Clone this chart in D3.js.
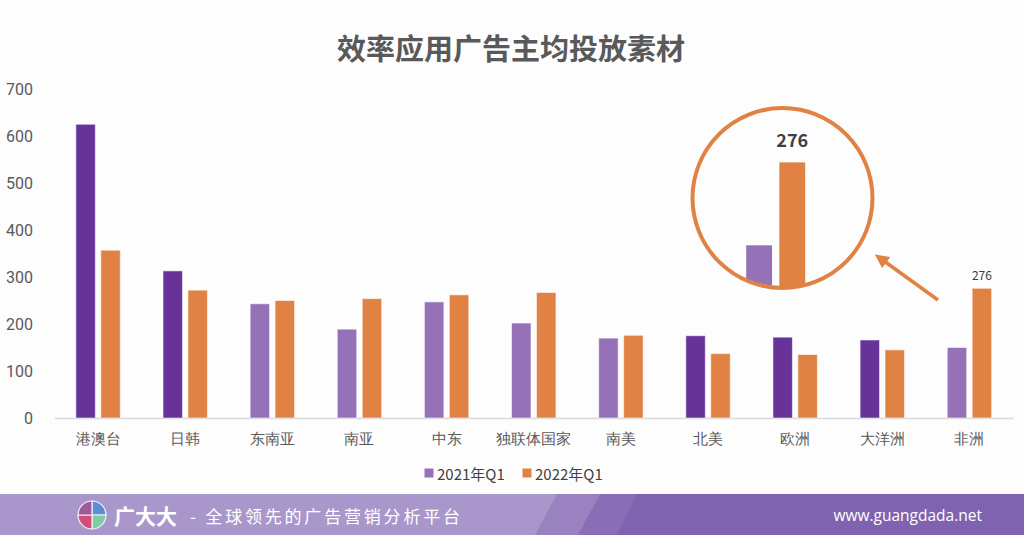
<!DOCTYPE html>
<html>
<head>
    <meta charset="utf-8">
    <title>效率应用广告主均投放素材</title>
    <script src="https://cdn.jsdelivr.net/npm/d3@7"></script>
    <style>
    body { margin:0; background:#fdfdfd; }
    svg { display:block; font-family:"Noto Sans CJK SC","Noto Sans",sans-serif; }
    .axis .domain { stroke:#d9d9d9; stroke-width:1.5; }
    .axis text { fill:#595959; }
    </style>
</head>
<body>
<script type="text/javascript">

// data
const regions = ["港澳台","日韩","东南亚","南亚","中东","独联体国家","南美","北美","欧洲","大洋洲","非洲"];
const q2021 = [625, 313, 243, 189, 247, 202, 170, 175, 172, 166, 150];
const q2022 = [357, 272, 250, 254, 262, 267, 176, 137, 135, 145, 276];
const seriesNames = ["2021年Q1","2022年Q1"];
const yTicks = [0,100,200,300,400,500,600,700];
const highlight = "非洲";

const W = 1024, H = 535;
const purpleDark = "#673399", purpleLight = "#9571b8", orange = "#df8244";

const svg = d3.select("body").append("svg").attr("width", W).attr("height", H);
svg.append("rect").attr("width", W).attr("height", H).attr("fill", "#fdfdfd");

//title
svg.append("text")
    .attr("x", 511).attr("y", 47)
    .attr("text-anchor","middle").attr("dominant-baseline","central")
    .attr("font-size", 29).attr("font-weight","bold").attr("fill","#595959")
    .text("效率应用广告主均投放素材");

//scales
const x = d3.scaleBand().domain(regions).range([54.5, 1013]).paddingInner(0).paddingOuter(0);
const xSub = d3.scaleBand().domain(seriesNames).range([-22.2, 22.2]).paddingInner(0.22);
const y = d3.scaleLinear().domain([0, 700]).range([418, 89]);

const data = regions.map((r,i) => ({region:r, a:q2021[i], b:q2022[i]}));
const colA = d => d.a > d.b ? purpleDark : purpleLight;

//axes
const yAxis = d3.axisLeft(y).tickValues(yTicks).tickSize(0).tickPadding(0);
svg.append("g").attr("class","axis").attr("transform","translate(33,0)")
    .call(yAxis)
    .call(g => g.select(".domain").remove())
    .selectAll("text").attr("font-size",16).attr("font-family","Roboto, 'Noto Sans', sans-serif");

const xAxis = d3.axisBottom(x).tickSize(0).tickSizeOuter(0).tickPadding(15);
svg.append("g").attr("class","axis").attr("transform","translate(0,418)")
    .call(xAxis)
    .selectAll("text").attr("font-size",15).attr("fill","#404040");

//bars
const groups = svg.append("g").selectAll("g").data(data).join("g")
    .attr("transform", d => `translate(${x(d.region) + x.bandwidth()/2},0)`);

groups.append("rect")
    .attr("x", xSub(seriesNames[0])).attr("width", xSub.bandwidth())
    .attr("y", d => y(d.a)).attr("height", d => y(0) - y(d.a))
    .attr("fill", colA).attr("stroke","rgba(255,255,255,0.55)").attr("stroke-width",1);
groups.append("rect")
    .attr("x", xSub(seriesNames[1])).attr("width", xSub.bandwidth())
    .attr("y", d => y(d.b)).attr("height", d => y(0) - y(d.b))
    .attr("fill", orange).attr("stroke","rgba(255,255,255,0.55)").attr("stroke-width",1);

// value label on highlighted bar
const hi = data.find(d => d.region === highlight);
const hiX = x(highlight) + x.bandwidth()/2;
svg.append("text")
    .attr("x", hiX + xSub(seriesNames[1]) + xSub.bandwidth()/2)
    .attr("y", y(hi.b) - 14)
    .attr("text-anchor","middle").attr("dominant-baseline","central")
    .attr("font-size",12).attr("fill","#404040")
    .text(hi.b);

//magnified inset
const cx = 782.5, cy = 198, cr = 90;
const kx = 1.33, ky = 1.4;
const zBase = 344, zCenter = 775.7;
svg.append("clipPath").attr("id","lens")
    .append("circle").attr("cx",cx).attr("cy",cy).attr("r",cr);
const lens = svg.append("g").attr("clip-path","url(#lens)");
const yz = v => zBase - (y(0) - y(v)) * ky;
lens.append("rect")
    .attr("x", zCenter + xSub(seriesNames[0]) * kx).attr("width", xSub.bandwidth()*kx)
    .attr("y", yz(hi.a)).attr("height", zBase - yz(hi.a))
    .attr("fill", colA(hi));
lens.append("rect")
    .attr("x", zCenter + xSub(seriesNames[1]) * kx).attr("width", xSub.bandwidth()*kx)
    .attr("y", yz(hi.b)).attr("height", zBase - yz(hi.b))
    .attr("fill", orange);
lens.append("text")
    .attr("x", zCenter + (xSub(seriesNames[1]) + xSub.bandwidth()/2) * kx)
    .attr("y", yz(hi.b) - 23)
    .attr("text-anchor","middle").attr("dominant-baseline","central")
    .attr("font-size",18).attr("font-weight","bold").attr("fill","#404040")
    .text(hi.b);
svg.append("circle").attr("cx",cx).attr("cy",cy).attr("r",cr)
    .attr("fill","none").attr("stroke",orange).attr("stroke-width",4);

//arrow
svg.append("defs").append("marker").attr("id","ah")
    .attr("viewBox","0 0 10 10").attr("refX",2).attr("refY",5)
    .attr("markerWidth",4).attr("markerHeight",4).attr("orient","auto")
    .append("path").attr("d","M0,0L10,5L0,10Z").attr("fill",orange);
svg.append("line")
    .attr("x1",938).attr("y1",300).attr("x2",884).attr("y2",261)
    .attr("stroke",orange).attr("stroke-width",3.5)
    .attr("marker-end","url(#ah)");

//legend
const legend = svg.append("g").attr("transform","translate(0,473)");
const legX = [424.5, 522.5];
[purpleLight, orange].forEach((c,i) => {
    legend.append("rect").attr("x",legX[i]).attr("y",-4.5).attr("width",9).attr("height",9).attr("fill",c);
    legend.append("text").attr("x",legX[i]+12.5).attr("y",0)
        .attr("dominant-baseline","central").attr("font-size",15).attr("fill","#404040")
        .text(seriesNames[i]);
});

//footer band
const foot = svg.append("g");
foot.append("rect").attr("x",0).attr("y",494).attr("width",W).attr("height",H-494).attr("fill","#a996cb");
foot.append("path").attr("d","M557,494L1024,494L1024,535L535,535Z").attr("fill","#9a81c0");
foot.append("path").attr("d","M600,494L1024,494L1024,535L578,535Z").attr("fill","#8a6db7");
foot.append("path").attr("d","M637,494L1024,494L1024,535L617,535Z").attr("fill","#7f63b1");

//logo
const lg = foot.append("g").attr("transform","translate(92,515)");
const arc = d3.arc().innerRadius(0).outerRadius(14);
const quads = [["#5b8fd0",0],["#7fcca6",Math.PI/2],["#cf4f78",Math.PI],["#9d5b9c",Math.PI*1.5]];
quads.forEach(q => lg.append("path")
    .attr("d", arc({startAngle:q[1], endAngle:q[1]+Math.PI/2}))
    .attr("fill", q[0]).attr("stroke","#f3eef8").attr("stroke-width",1.2));

foot.append("text").attr("x",114).attr("y",515).attr("dominant-baseline","central")
    .attr("font-size",21).attr("font-weight","bold").attr("fill","#fff").text("广大大");
foot.append("text").attr("x",190).attr("y",515).attr("dominant-baseline","central")
    .attr("font-size",17).attr("fill","#fff").attr("textLength",270)
    .text("- 全球领先的广告营销分析平台");
foot.append("text").attr("x",982).attr("y",515).attr("text-anchor","end").attr("dominant-baseline","central")
    .attr("font-size",15.5).attr("fill","#fff").attr("font-family","'Open Sans', sans-serif")
    .text("www.guangdada.net");

</script>
</body>
</html>
